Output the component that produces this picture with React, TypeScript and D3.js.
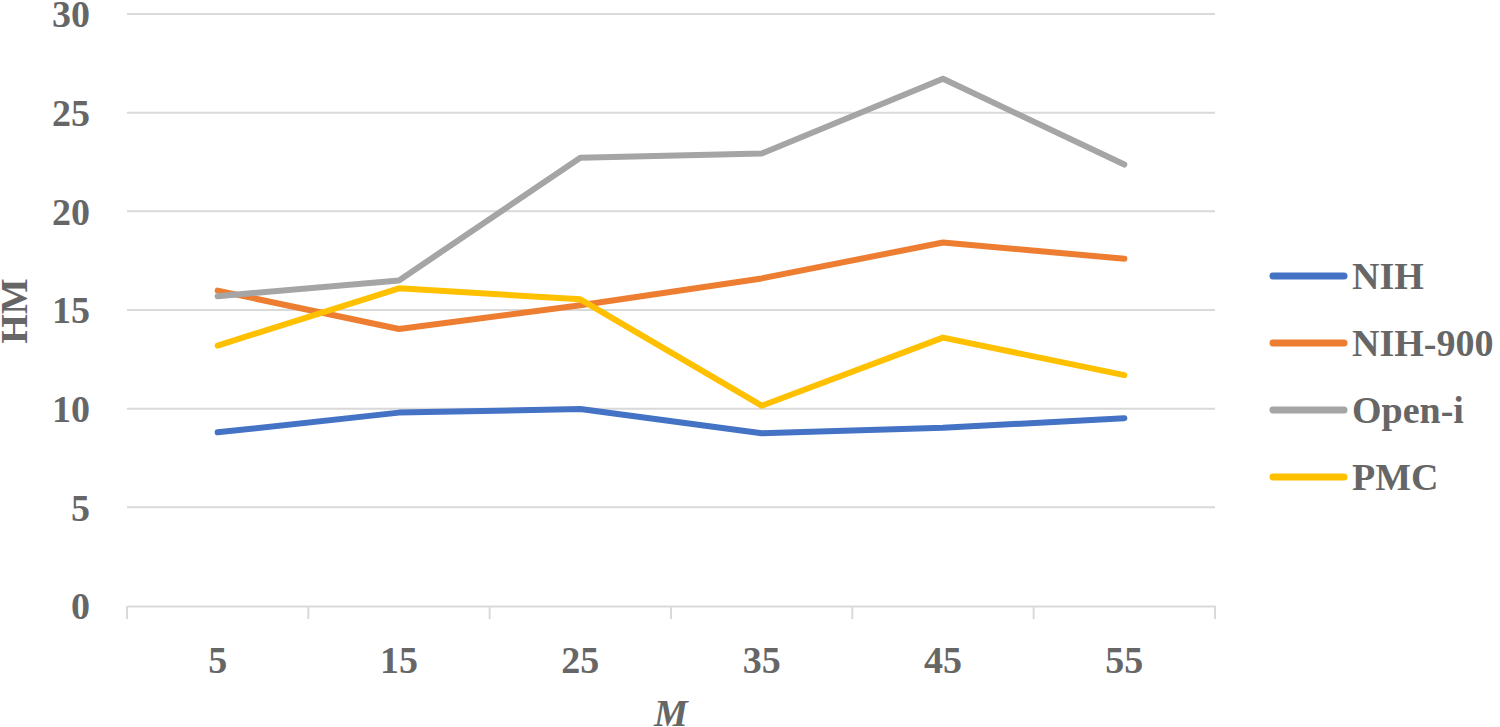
import { useEffect, useRef } from "react";
import * as d3 from "d3";

// values
const categories = ["5", "15", "25", "35", "45", "55"];
const seriesNames = ["NIH", "NIH-900", "Open-i", "PMC"];
const nih = [8.8, 9.8, 9.98, 8.75, 9.03, 9.52];
const nih900 = [15.98, 14.04, 15.24, 16.6, 18.42, 17.6];
const openI = [15.7, 16.5, 22.71, 22.93, 26.72, 22.37];
const pmc = [13.2, 16.1, 15.54, 10.15, 13.6, 11.7];
const yTicks = [0, 5, 10, 15, 20, 25, 30];
const colors = ["#4472C4", "#ED7D31", "#A5A5A5", "#FFC000"];

const W = 1500;
const H = 727;
const FONT = "'Liberation Serif', 'Times New Roman', serif";
const TEXT = "#666666";

const App = () => {
  const svgRef = useRef<SVGSVGElement>(null);

  useEffect(() => {
    const svg = d3.select(svgRef.current);
    svg.selectAll("*").remove();

    const seriesValues = [nih, nih900, openI, pmc];

    const x = d3.scaleBand().domain(categories).range([127, 1215]).padding(0);
    const y = d3.scaleLinear().domain([0, 30]).range([606, 14]);

    // grid
    svg
      .append("g")
      .selectAll("line")
      .data(yTicks.filter((t) => t !== 0))
      .enter()
      .append("line")
      .attr("x1", 127)
      .attr("x2", 1215)
      .attr("y1", (d) => y(d))
      .attr("y2", (d) => y(d))
      .attr("stroke", "#D9D9D9")
      .attr("stroke-width", 2);

    // x axis line + ticks between categories
    const xAxis = svg
      .append("g")
      .attr("transform", `translate(0,${y(0)})`)
      .call(d3.axisBottom(x).tickSize(0).tickFormat(() => ""));
    xAxis.select(".domain").attr("stroke", "#D9D9D9").attr("stroke-width", 2);

    const boundaries = categories.map((c) => x(c) as number).concat([x.range()[1]]);
    svg
      .append("g")
      .selectAll("line")
      .data(boundaries)
      .enter()
      .append("line")
      .attr("x1", (d) => d)
      .attr("x2", (d) => d)
      .attr("y1", y(0))
      .attr("y2", y(0) + 13)
      .attr("stroke", "#D9D9D9")
      .attr("stroke-width", 2);

    // tick labels
    svg
      .append("g")
      .selectAll("text")
      .data(yTicks)
      .enter()
      .append("text")
      .attr("x", 90)
      .attr("y", (d) => y(d))
      .attr("dy", "0.35em")
      .attr("text-anchor", "end")
      .attr("font-family", FONT)
      .attr("font-weight", "bold")
      .attr("font-size", 38)
      .attr("fill", TEXT)
      .text((d) => d);

    svg
      .append("g")
      .selectAll("text")
      .data(categories)
      .enter()
      .append("text")
      .attr("x", (d) => (x(d) as number) + x.bandwidth() / 2)
      .attr("y", 660)
      .attr("dy", "0.35em")
      .attr("text-anchor", "middle")
      .attr("font-family", FONT)
      .attr("font-weight", "bold")
      .attr("font-size", 38)
      .attr("fill", TEXT)
      .text((d) => d);

    // axis titles
    svg
      .append("text")
      .attr("x", 671)
      .attr("y", 713)
      .attr("dy", "0.35em")
      .attr("text-anchor", "middle")
      .attr("font-family", FONT)
      .attr("font-weight", "bold")
      .attr("font-style", "italic")
      .attr("font-size", 38)
      .attr("fill", TEXT)
      .text("M");

    svg
      .append("text")
      .attr("transform", "translate(14,311) rotate(-90)")
      .attr("dy", "0.35em")
      .attr("text-anchor", "middle")
      .attr("font-family", FONT)
      .attr("font-weight", "bold")
      .attr("font-size", 38)
      .attr("fill", TEXT)
      .text("HM");

    // lines
    const line = d3
      .line<number>()
      .x((_, i) => (x(categories[i]) as number) + x.bandwidth() / 2)
      .y((d) => y(d));

    seriesValues.forEach((vals, i) => {
      svg
        .append("path")
        .datum(vals)
        .attr("fill", "none")
        .attr("stroke", colors[i])
        .attr("stroke-width", 6)
        .attr("stroke-linecap", "round")
        .attr("stroke-linejoin", "round")
        .attr("d", line);
    });

    // legend
    const legend = svg.append("g");
    seriesNames.forEach((name, i) => {
      const ly = 276 + i * 67;
      legend
        .append("line")
        .attr("x1", 1273)
        .attr("x2", 1344)
        .attr("y1", ly)
        .attr("y2", ly)
        .attr("stroke", colors[i])
        .attr("stroke-width", 7)
        .attr("stroke-linecap", "round");
      legend
        .append("text")
        .attr("x", 1352)
        .attr("y", ly)
        .attr("dy", "0.35em")
        .attr("font-family", FONT)
        .attr("font-weight", "bold")
        .attr("font-size", 38)
        .attr("fill", TEXT)
        .text(name);
    });
  }, []);

  return (
    <svg
      ref={svgRef}
      width={W}
      height={H}
      style={{ position: "absolute", left: 0, top: 0, background: "#fff" }}
    />
  );
};

export default App;
